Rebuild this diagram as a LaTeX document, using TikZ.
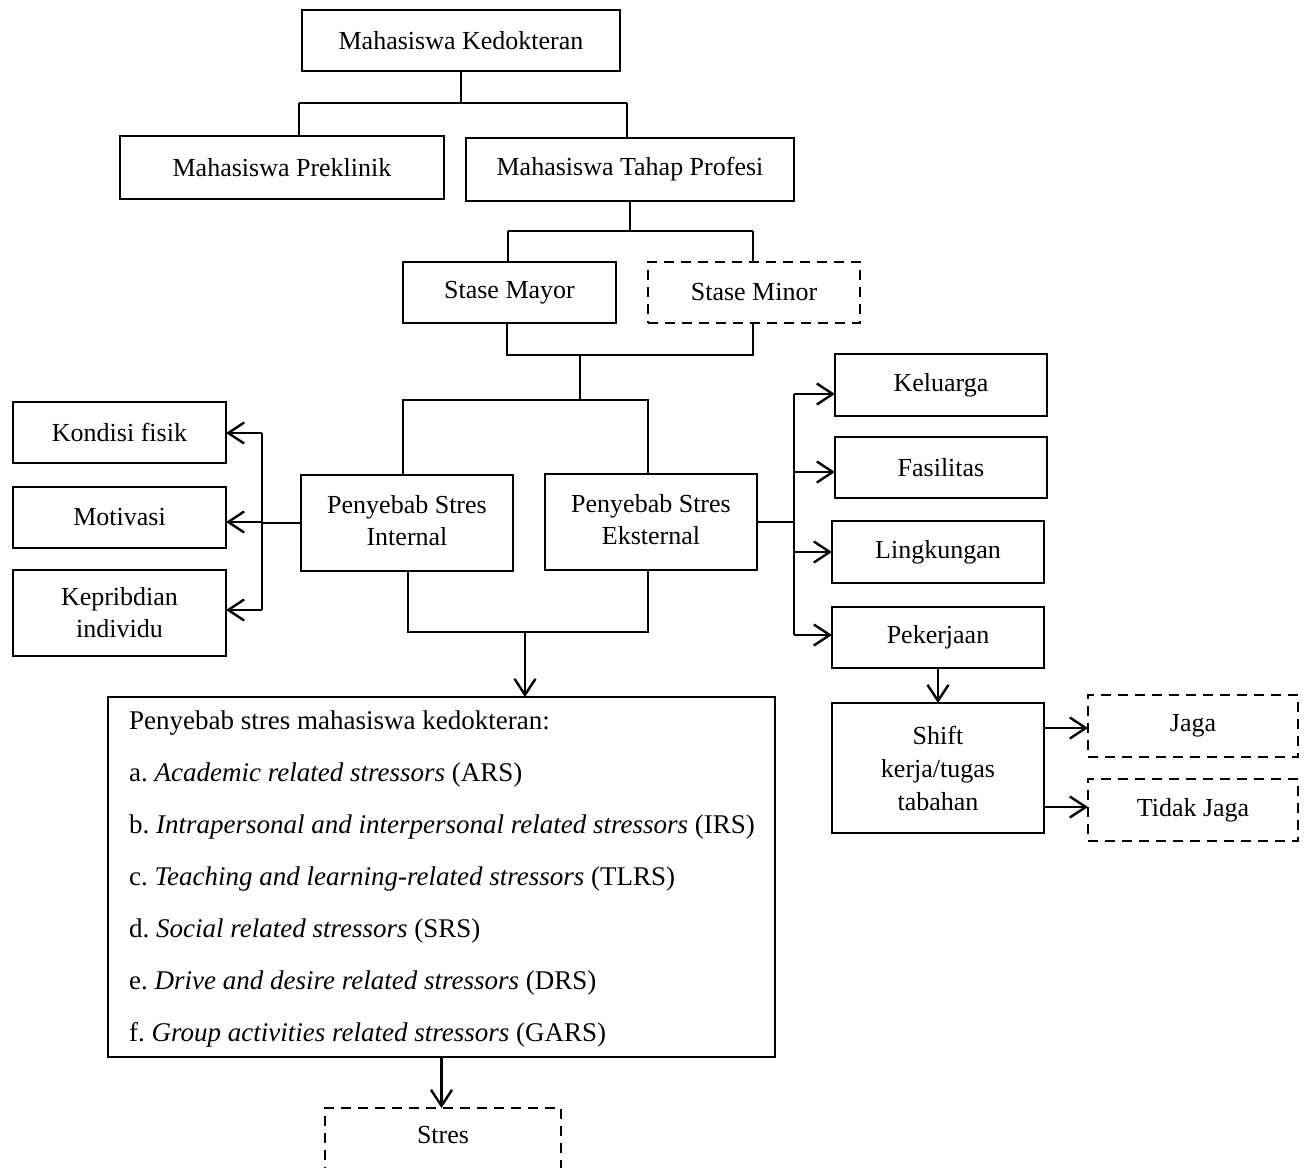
\documentclass[tikz,border=0pt]{standalone}
\usepackage{fontspec}
\setmainfont{Liberation Serif}
\usetikzlibrary{arrows.meta,calc}
\frenchspacing
\begin{document}
\begin{tikzpicture}[x=1pt,y=-1pt,
 box/.style={draw, line width=2.6pt, inner sep=0pt, outer sep=0pt, align=center, font=\fontsize{26}{32}\selectfont},
 dbox/.style={box, dash pattern=on 10pt off 7pt, line width=2.4pt},
 ln/.style={line width=1.8pt},
 arr/.style={line width=2.2pt, -{Straight Barb[length=16pt,width=21pt,line width=2.4pt]}},
]
\useasboundingbox (0,0) rectangle (1306,1167);
\fill[white] (0,0) rectangle (1306,1167);

% nodes
\node[box, minimum width=318pt, minimum height=61pt] (mk) at (461,40.5) {Mahasiswa Kedokteran};
\node[box, minimum width=324pt, minimum height=63pt] (pre) at (282,167.5) {Mahasiswa Preklinik};
\node[box, minimum width=328pt, minimum height=63pt] (pro) at (630,169.5) {Mahasiswa Tahap Profesi};
\node[box, minimum width=213pt, minimum height=61pt] (mayor) at (509.5,292.5) {Stase Mayor};
\node[dbox, minimum width=212pt, minimum height=61pt] (minor) at (754,292.5) {Stase Minor};
\node[box, minimum width=212pt, minimum height=96pt, text depth=6pt] (internal) at (407,523) {Penyebab Stres\\Internal};
\node[box, minimum width=212pt, minimum height=96pt, text depth=6pt] (external) at (651,522) {Penyebab Stres\\Eksternal};
\node[box, minimum width=213pt, minimum height=61pt] (kondisi) at (119.5,432.5) {Kondisi fisik};
\node[box, minimum width=213pt, minimum height=61pt] (motivasi) at (119.5,517.5) {Motivasi};
\node[box, minimum width=213pt, minimum height=86pt] (kepri) at (119.5,613) {Kepribdian\\individu};
\node[box, minimum width=212pt, minimum height=62pt] (keluarga) at (941,385) {Keluarga};
\node[box, minimum width=212pt, minimum height=61pt] (fasilitas) at (941,467.5) {Fasilitas};
\node[box, minimum width=212pt, minimum height=62pt] (lingkungan) at (938,552) {Lingkungan};
\node[box, minimum width=212pt, minimum height=61pt] (pekerjaan) at (938,637.5) {Pekerjaan};
\node[box, minimum width=212pt, minimum height=130pt, font=\fontsize{26}{33}\selectfont] (shift) at (938,768) {Shift\\kerja/tugas\\tabahan};
\node[dbox, minimum width=210pt, minimum height=62pt] (jaga) at (1193,726) {Jaga};
\node[dbox, minimum width=210pt, minimum height=62pt] (tidak) at (1193,810) {Tidak Jaga};
\node[box, minimum width=667pt, minimum height=360pt] (main) at (441.5,877) {};
\node[anchor=west, align=left, inner sep=0pt, font=\fontsize{27}{52}\selectfont] (maintext) at ($(main.west)+(21,2)$) {Penyebab stres mahasiswa kedokteran:\\
a. \textit{Academic related stressors} (ARS)\\
b. \textit{Intrapersonal and interpersonal related stressors} (IRS)\\
c. \textit{Teaching and learning-related stressors} (TLRS)\\
d. \textit{Social related stressors} (SRS)\\
e. \textit{Drive and desire related stressors} (DRS)\\
f. \textit{Group activities related stressors} (GARS)};
\node[dbox, minimum width=236pt, minimum height=64pt, text depth=10pt] (stres) at (443,1140) {Stres};

% tree connectors
\coordinate (t1) at (461,103);
\coordinate (t1l) at (299,103);
\coordinate (t1r) at (627,103);
\draw[ln] (mk.south) -- (t1);
\draw[ln] (t1l) -- (t1r);
\draw[ln] (t1l) -- (t1l |- pre.north);
\draw[ln] (t1r) -- (t1r |- pro.north);

\coordinate (t2l) at (508,231);
\coordinate (t2r) at (753,231);
\draw[ln] (pro.south) -- (pro.south |- t2l);
\draw[ln] (t2l) -- (t2r);
\draw[ln] (t2l) -- (t2l |- mayor.north);
\draw[ln] (t2r) -- (t2r |- minor.north);

\coordinate (t3l) at (507,355);
\coordinate (t3r) at (753,355);
\coordinate (t3m) at (580,355);
\coordinate (t4l) at (403,400);
\coordinate (t4r) at (648,400);
\draw[ln] (t3l |- mayor.south) -- (t3l) -- (t3r) -- (t3r |- minor.south);
\draw[ln] (t3m) -- (t3m |- t4l);
\draw[ln] (t4l |- internal.north) -- (t4l) -- (t4r) -- (t4r |- external.north);

% left bus
\coordinate (lb1) at (262,433);
\coordinate (lb2) at (262,522);
\coordinate (lb3) at (262,610);
\draw[ln] (internal.west) -- (lb2 |- internal.west);
\draw[ln] (lb1) -- (lb3);
\draw[arr] (lb1) -- (lb1 -| kondisi.east);
\draw[arr] (lb2) -- (lb2 -| motivasi.east);
\draw[arr] (lb3) -- (lb3 -| kepri.east);

% merge to main
\coordinate (t5l) at (408,632);
\coordinate (t5r) at (648,632);
\coordinate (t5m) at (525,632);
\draw[ln] (t5l |- internal.south) -- (t5l) -- (t5r) -- (t5r |- external.south);
\draw[arr] (t5m) -- (t5m |- main.north);

% right bus
\coordinate (rb1) at (794,394);
\coordinate (rb2) at (794,472);
\coordinate (rb3) at (794,552);
\coordinate (rb4) at (794,635);
\draw[ln] (external.east) -- (rb1 |- external.east);
\draw[ln] (rb1) -- (rb4);
\draw[arr] (rb1) -- (rb1 -| keluarga.west);
\draw[arr] (rb2) -- (rb2 -| fasilitas.west);
\draw[arr] (rb3) -- (rb3 -| lingkungan.west);
\draw[arr] (rb4) -- (rb4 -| pekerjaan.west);

\draw[arr] (pekerjaan.south) -- (shift.north);
\coordinate (s1) at (1044,728);
\coordinate (s2) at (1044,807);
\draw[arr] (s1) -- (s1 -| jaga.west);
\draw[arr] (s2) -- (s2 -| tidak.west);

\draw[arr] (main.south) -- (main.south |- stres.north);
\end{tikzpicture}
\end{document}
